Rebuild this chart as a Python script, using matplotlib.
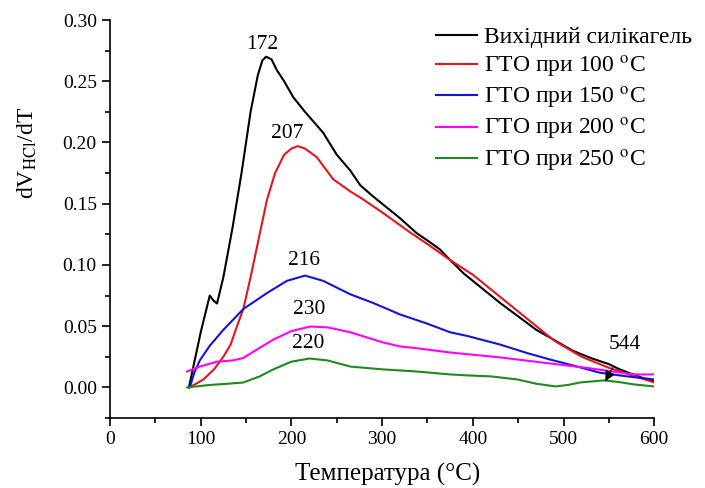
import matplotlib.pyplot as plt
from matplotlib.ticker import MultipleLocator

plt.rcParams['font.family'] = ['Liberation Serif', 'DejaVu Serif']
plt.rcParams['mathtext.fontset'] = 'stix'

# data
x_black = [87, 96, 100, 105, 110, 114, 118, 125, 135, 145, 155, 163, 168, 172, 178, 184, 192, 202, 215,
           235, 250, 265, 276, 290, 305, 320, 338, 350, 364, 375, 390, 410, 430, 450, 470, 489, 510,
           530, 550, 562, 575, 590, 600]
y_black = [0, 0.031, 0.045, 0.06, 0.075, 0.071, 0.0685, 0.09, 0.13, 0.175, 0.225, 0.255, 0.267, 0.27,
           0.268, 0.259, 0.25, 0.237, 0.225, 0.208, 0.19, 0.177, 0.165, 0.156, 0.147, 0.138, 0.126,
           0.12, 0.1125, 0.104, 0.093, 0.081, 0.069, 0.058, 0.047, 0.039, 0.030, 0.024, 0.019, 0.0147,
           0.011, 0.007, 0.005]

x_red = [87, 95, 103, 115, 125, 133, 140, 147, 155, 165, 173, 182, 192, 200, 207, 215, 228, 246, 265,
         276, 300, 330, 350, 375, 400, 430, 460, 490, 520, 550, 575, 600]
y_red = [0, 0.003, 0.0065, 0.015, 0.025, 0.035, 0.05, 0.064, 0.09, 0.125, 0.153, 0.175, 0.19, 0.195,
         0.197, 0.195, 0.188, 0.17, 0.16, 0.155, 0.143, 0.127, 0.117, 0.104, 0.092, 0.074, 0.056,
         0.038, 0.025, 0.016, 0.010, 0.004]

x_blue = [88, 93, 99, 110, 125, 147, 173, 195, 215, 235, 265, 290, 320, 350, 375, 394, 430, 460, 485,
          510, 540, 570, 600]
y_blue = [0, 0.012, 0.022, 0.034, 0.047, 0.064, 0.077, 0.087, 0.0913, 0.087, 0.076, 0.069, 0.0595,
          0.052, 0.045, 0.042, 0.035, 0.028, 0.0228, 0.018, 0.012, 0.009, 0.0065]

x_mag = [85, 99, 118, 135, 147, 160, 180, 200, 221, 240, 265, 301, 320, 338, 375, 430, 480, 522, 577, 600]
y_mag = [0.013, 0.017, 0.021, 0.022, 0.024, 0.030, 0.039, 0.046, 0.0497, 0.049, 0.045, 0.0367, 0.0334,
         0.032, 0.0285, 0.0245, 0.020, 0.0163, 0.0106, 0.0106]

x_green = [85, 110, 130, 147, 165, 180, 200, 220, 240, 265, 301, 338, 375, 394, 420, 449, 470, 491, 505,
           518, 544, 560, 577, 600]
y_green = [0, 0.002, 0.003, 0.004, 0.009, 0.0147, 0.021, 0.0236, 0.022, 0.017, 0.0147, 0.013, 0.0106,
           0.0098, 0.009, 0.0065, 0.003, 0.0008, 0.002, 0.004, 0.0057, 0.0045, 0.0025, 0.0008]

labels = ['Вихідний силікагель', 'ГТО при 100 $^{\\rm o}$C', 'ГТО при 150 $^{\\rm o}$C',
          'ГТО при 200 $^{\\rm o}$C', 'ГТО при 250 $^{\\rm o}$C']
peaks = ['172', '207', '216', '230', '220']
peak_pos = [(168, 0.280), (195, 0.207), (214, 0.104), (220, 0.064), (218, 0.036)]

fig = plt.figure(figsize=(7.05, 4.88), dpi=100)
ax = fig.add_axes([0.156, 0.1434, 0.772, 0.8156])

lw = 1.5
ax.plot(x_black, y_black, color='black', lw=lw, label=labels[0])
ax.plot(x_red, y_red, color='#e8141a', lw=lw, label=labels[1])
ax.plot(x_blue, y_blue, color='#1414d8', lw=lw, label=labels[2])
ax.plot(x_mag, y_mag, color='#ff00ff', lw=lw, label=labels[3])
ax.plot(x_green, y_green, color='#1f8a1f', lw=lw, label=labels[4])

for t, (px, py) in zip(peaks, peak_pos):
    ax.text(px, py, t, ha='center', va='center', fontsize=15.5)
ax.annotate('544', xy=(546, 0.005), xytext=(568, 0.035), ha='center', va='center', fontsize=15.5,
            arrowprops=dict(arrowstyle='-|>', color='black', lw=0.8, shrinkA=9, shrinkB=0))

ax.set_xlim(0, 600)
ax.set_ylim(-0.025, 0.30)
ax.xaxis.set_major_locator(MultipleLocator(100))
ax.xaxis.set_minor_locator(MultipleLocator(50))
ax.yaxis.set_major_locator(MultipleLocator(0.05))
ax.yaxis.set_minor_locator(MultipleLocator(0.025))
ax.yaxis.set_major_formatter(plt.FormatStrFormatter('%.2f'))
ax.tick_params(which='major', direction='out', length=6, width=1.2, labelsize=14)
ax.tick_params(which='minor', direction='out', length=3.5, width=1.2)
for s in ['top', 'right']:
    ax.spines[s].set_visible(False)
for s in ['left', 'bottom']:
    ax.spines[s].set_linewidth(1.2)

ax.set_xlabel('Температура (°C)', fontsize=18)
ax.set_ylabel('dV$_{\\rm HCl}$/dT', fontsize=17)
ax.xaxis.set_label_coords(0.511, -0.112)
ax.yaxis.set_label_coords(-0.13, 0.666)

ax.legend(loc='upper right', bbox_to_anchor=(0.982, 0.945), bbox_transform=fig.transFigure,
          frameon=False, fontsize=17, handlelength=1.75, handletextpad=0.3, labelspacing=0.22,
          borderpad=0, borderaxespad=0)

fig.savefig('out.png', dpi=100)
